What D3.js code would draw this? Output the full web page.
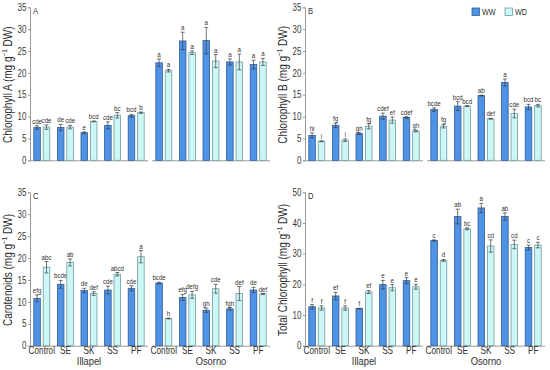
<!DOCTYPE html>
<html><head><meta charset="utf-8">
<script src="https://cdn.jsdelivr.net/npm/d3@7"></script>
<style>body{margin:0;background:#fff}svg{display:block;font-family:"Liberation Sans",Arial,sans-serif}</style>
</head><body><svg id="c" width="550" height="370"></svg>
<script>
const treatments = ["Control","SE","SK","SS","PF"];
const sites = ["Illapel","Osorno"];
const series = ["WW","WD"];
// values ordered: Illapel Control..PF, then Osorno Control..PF
const chlA_WW = [7.5,7.5,6.3,8.0,10.2, 22.3,27.3,27.4,22.5,21.9];
const chlA_WD = [7.6,7.6,8.9,10.3,10.9, 20.5,24.6,22.7,22.5,22.5];
const chlA_WW_err = [0.4,0.7,0.2,0.8,0.3, 0.9,2.0,3.0,0.7,1.0];
const chlA_WD_err = [0.5,0.4,0.1,0.6,0.15, 0.3,0.4,1.5,1.8,0.8];
const chlA_WW_lab = ["cde","de","e","cde","bcd","a","a","a","a","a"];
const chlA_WD_lab = ["cde","cde","bcd","bc","b","a","a","a","a","a"];

const chlB_WW = [5.7,8.0,6.1,10.1,9.8, 11.6,12.4,14.8,17.8,12.2];
const chlB_WD = [4.35,4.6,7.8,9.2,6.7, 7.8,12.4,9.5,10.7,12.5];
const chlB_WW_err = [0.6,0.5,0.2,0.7,0.2, 0.4,1.0,0.1,0.8,0.6];
const chlB_WD_err = [0.1,0.3,0.6,0.7,0.2, 0.4,0.1,0.1,1.0,0.3];
const chlB_WW_lab = ["hi","fg","gh","cdef","cdef","bcde","bcd","ab","a","bcd"];
const chlB_WD_lab = ["i","i","fg","ef","gh","fg","bcd","def","cde","bc"];

const car_WW = [10.8,14.0,12.6,12.7,13.1, 14.3,11.0,8.1,8.4,12.7];
const car_WD = [17.9,19.0,11.9,16.3,20.3, 6.2,11.6,13.0,11.9,11.8];
const car_WW_err = [0.8,0.9,0.5,0.9,0.6, 0.2,0.7,0.5,0.3,0.6];
const car_WD_err = [1.3,0.8,0.4,0.4,1.4, 0.1,0.8,1.0,1.6,0.1];
const car_WW_lab = ["efg","bcde","de","cde","cde","bcde","efg","gh","fgh","de"];
const car_WD_lab = ["abc","ab","def","abcd","a","h","defg","cde","def","def"];

const tot_WW = [12.7,16.2,12.1,19.9,21.2, 34.3,42.1,44.9,42.1,32.0];
const tot_WD = [12.3,12.3,17.5,18.9,19.2, 27.8,38.1,32.5,33.0,32.8];
const tot_WW_err = [0.7,1.2,0.1,1.4,1.0, 0.2,2.4,1.5,1.2,0.8];
const tot_WD_err = [0.7,0.7,0.5,1.0,0.8, 0.3,0.3,2.0,1.4,0.9];
const tot_WW_lab = ["f","ef","f","e","e","c","ab","a","ab","c"];
const tot_WD_lab = ["f","f","ef","e","e","d","bc","cd","cd","c"];

const panels = [
  {letter:"A", ylab:"Chlorophyll A (mg  g", ymax:35, step:5, ww:chlA_WW, wd:chlA_WD, wwe:chlA_WW_err, wde:chlA_WD_err, wwl:chlA_WW_lab, wdl:chlA_WD_lab, ax:30, top:7.3, bot:160.3, lx:12, xlabels:false},
  {letter:"B", ylab:"Chlorophyll B (mg  g", ymax:35, step:5, ww:chlB_WW, wd:chlB_WD, wwe:chlB_WW_err, wde:chlB_WD_err, wwl:chlB_WW_lab, wdl:chlB_WD_lab, ax:305, top:7.3, bot:160.3, lx:287, xlabels:false},
  {letter:"C", ylab:"Carotenoids (mg  g", ymax:35, step:5, ww:car_WW, wd:car_WD, wwe:car_WW_err, wde:car_WD_err, wwl:car_WW_lab, wdl:car_WD_lab, ax:30, top:192.3, bot:345.7, lx:12, xlabels:true},
  {letter:"D", ylab:"Total Chlorophyll (mg  g", ymax:50, step:10, ww:tot_WW, wd:tot_WD, wwe:tot_WW_err, wde:tot_WD_err, wwl:tot_WW_lab, wdl:tot_WD_lab, ax:305, top:192.3, bot:345.7, lx:287, xlabels:true}
];

const colors = {WW:{fill:"#4f93e6", stroke:"#2e5d96"}, WD:{fill:"#cdf7f7", stroke:"#6f9c9e"}};
const svg = d3.select("#c");
const axisCol = "#9a9a9a";
const txtCol = "#2f2f2f";

// text squeezed horizontally like the reference
function stext(g, x, y, str, size, sx, anchor) {
  return g.append("text").attr("transform",`translate(${x},${y}) scale(${sx},1)`)
    .attr("text-anchor",anchor||"middle").attr("fill",txtCol).style("font-size",size+"px").text(str);
}

panels.forEach(p => {
  const g = svg.append("g");
  const y = d3.scaleLinear().domain([0,p.ymax]).range([p.bot,p.top]);
  const yAxis = d3.axisLeft(y).tickValues(d3.range(0,p.ymax+0.001,p.step)).tickSize(2).tickPadding(1.5);
  const ya = g.append("g").attr("transform",`translate(${p.ax},0)`).call(yAxis);
  ya.select(".domain").attr("stroke",axisCol);
  ya.selectAll(".tick line").attr("stroke",axisCol);
  ya.selectAll(".tick text").attr("fill","#3a3a3a").style("font-size","10px")
    .attr("x",-3.5/0.8).attr("transform","scale(0.8,1)");

  // y label
  const yl = g.append("text").attr("transform",`translate(${p.lx},${(p.top+p.bot)/2 + 1}) rotate(-90) scale(0.8,1)`)
    .attr("text-anchor","middle").attr("fill",txtCol).style("font-size","12.5px");
  yl.append("tspan").text(p.ylab);
  yl.append("tspan").attr("dy","-5").style("font-size","8px").text("−1");
  yl.append("tspan").attr("dy","5").text(" DW)");

  stext(g, p.ax+3, p.top+6.5, p.letter, 8.5, 0.9, "start");

  sites.forEach((site,si) => {
    const fx0 = p.ax + si*122, fx1 = fx0 + 118;
    const xb = d3.scaleBand().domain(treatments).range([fx0,fx1]).paddingInner(0.28).paddingOuter(0.14);
    const xs = d3.scaleBand().domain(series).range([0,xb.bandwidth()]).paddingInner(0.2);
    g.append("line").attr("x1",fx0).attr("x2",fx1).attr("y1",p.bot+0.5).attr("y2",p.bot+0.5).attr("stroke",axisCol);
    treatments.forEach((t,ti) => {
      const idx = si*5+ti;
      series.forEach(s => {
        const v = s==="WW"?p.ww[idx]:p.wd[idx];
        const e = s==="WW"?p.wwe[idx]:p.wde[idx];
        const lab = s==="WW"?p.wwl[idx]:p.wdl[idx];
        const x0 = xb(t)+xs(s), w = xs.bandwidth(), cx = x0+w/2;
        g.append("rect").attr("x",x0+0.5).attr("y",y(v)).attr("width",w-1).attr("height",y(0)-y(v))
          .attr("fill",colors[s].fill).attr("stroke",colors[s].stroke).attr("stroke-width",0.8);
        const ec = "#3c3c3c";
        g.append("line").attr("x1",cx).attr("x2",cx).attr("y1",y(v-e)).attr("y2",y(v+e)).attr("stroke",ec).attr("stroke-width",0.7);
        [v-e,v+e].forEach(q => g.append("line").attr("x1",cx-2).attr("x2",cx+2).attr("y1",y(q)).attr("y2",y(q)).attr("stroke",ec).attr("stroke-width",0.7));
        stext(g, cx, y(v+e)-2, lab, 7.5, 0.82);
      });
      if (p.xlabels) {
        stext(g, xb(t)+xb.bandwidth()/2, p.bot+8, t, 10, 0.82);
      }
    });
    if (p.xlabels) {
      stext(g, (fx0+fx1)/2, p.bot+19.5, site, 11, 0.85);
    }
  });
});

// legend
const leg = svg.append("g");
[{s:"WW",x:472},{s:"WD",x:505}].forEach(d => {
  leg.append("rect").attr("x",d.x).attr("y",8).attr("width",7.5).attr("height",7.5).attr("fill",colors[d.s].fill).attr("stroke",colors[d.s].stroke).attr("stroke-width",0.8);
  stext(leg, d.x+10, 15.3, d.s, 8.5, 0.85, "start");
});
</script></body></html>
